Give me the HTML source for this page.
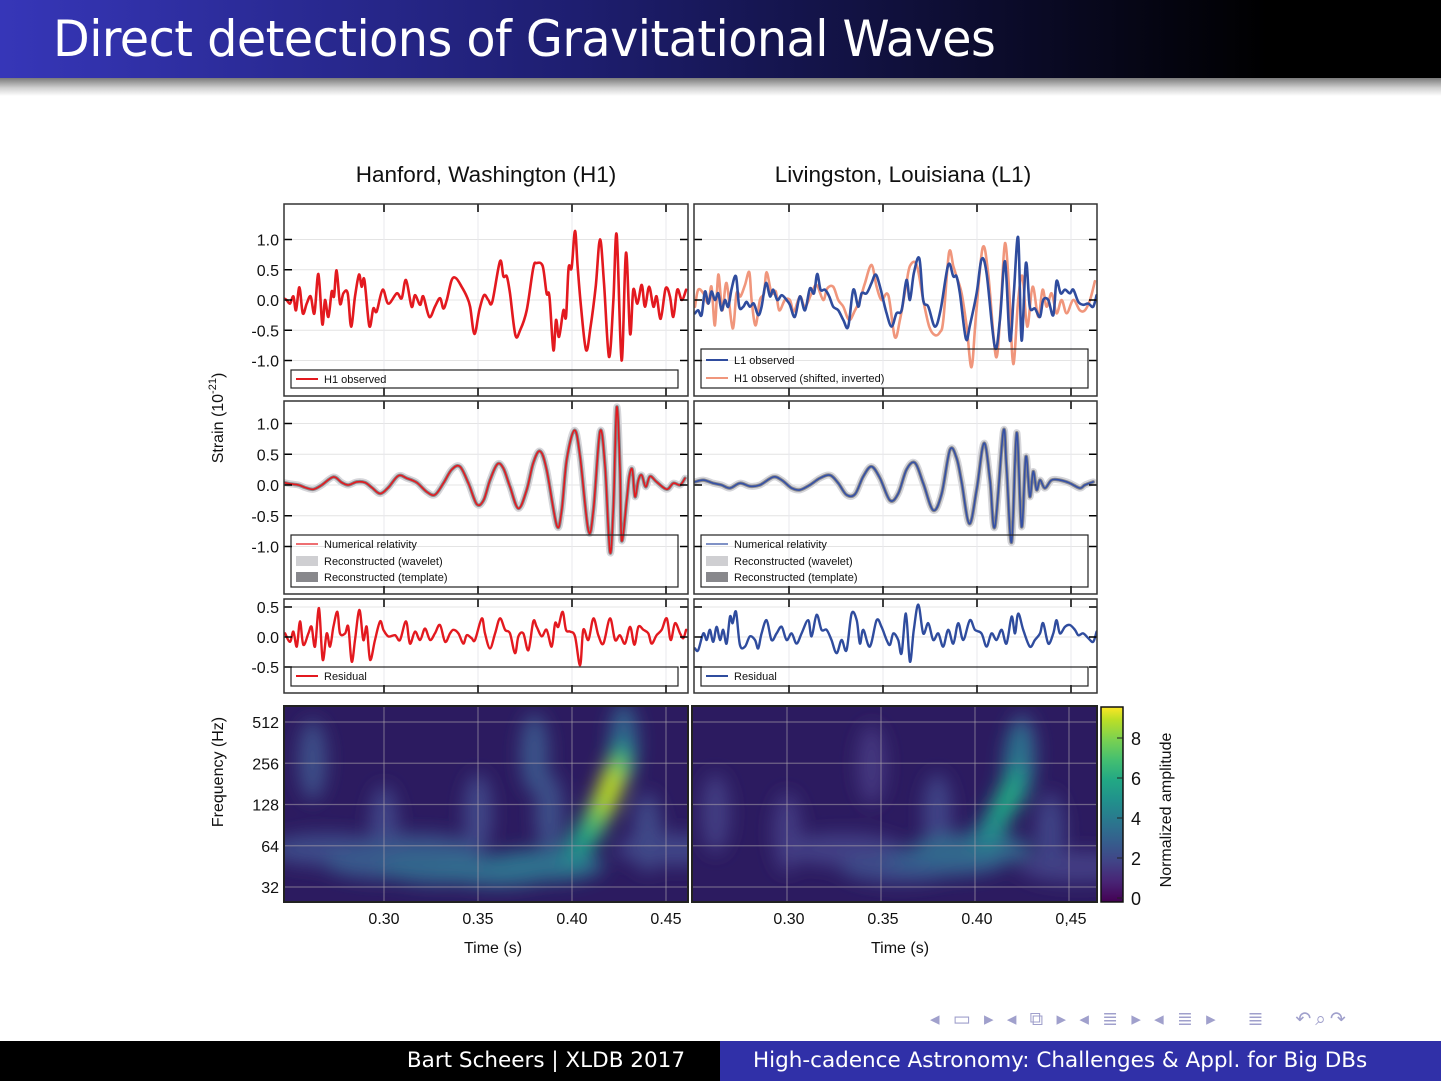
<!DOCTYPE html>
<html><head><meta charset="utf-8">
<style>
body{margin:0;width:1441px;height:1081px;position:relative;background:#fff;overflow:hidden;font-family:"Liberation Sans",sans-serif}
#hdr{position:absolute;left:0;top:0;width:1441px;height:78px;background:linear-gradient(90deg,#3636b8 0%,#1e1e70 40%,#000 88%)}
#hdr span{position:absolute;left:53px;top:10px;color:#fff;font-size:50px;font-family:"DejaVu Sans Condensed","Liberation Sans Narrow","Liberation Sans",sans-serif;font-weight:200;letter-spacing:-0.5px;transform:scaleX(1.06);transform-origin:left top;white-space:nowrap}
#shd{position:absolute;left:0;top:78px;width:1441px;height:18px;background:linear-gradient(180deg,#7a7a7a,#d0d0d0 55%,#fff)}
#fl{position:absolute;left:0;top:1041px;width:720px;height:40px;background:#000;color:#fff;font-size:21.5px;font-family:"DejaVu Sans","Liberation Sans",sans-serif}
#fr{position:absolute;left:720px;top:1041px;width:721px;height:40px;background:#3030a8;color:#fff;font-size:21.5px;font-family:"DejaVu Sans","Liberation Sans",sans-serif}
#nav{position:absolute;left:930px;top:1008px;font-size:19px;color:#a0a0cc;letter-spacing:4px}
svg text{font-family:"Liberation Sans",sans-serif}
</style></head>
<body>
<div id="hdr"><span>Direct detections of Gravitational Waves</span></div>
<div id="shd"></div>
<svg id="fig" width="1441" height="1081" style="position:absolute;left:0;top:0">
<defs>
<filter id="blr" x="-50%" y="-50%" width="200%" height="200%"><feGaussianBlur stdDeviation="9"/></filter>
<clipPath id="cL1"><rect x="284" y="204" width="404" height="192"/></clipPath>
<clipPath id="cR1"><rect x="694" y="204" width="403" height="192"/></clipPath>
<clipPath id="cL2"><rect x="284" y="401" width="404" height="193"/></clipPath>
<clipPath id="cR2"><rect x="694" y="401" width="403" height="193"/></clipPath>
<clipPath id="cL3"><rect x="284" y="599" width="404" height="94"/></clipPath>
<clipPath id="cR3"><rect x="694" y="599" width="403" height="94"/></clipPath>
<clipPath id="cLS"><rect x="284" y="706" width="404" height="196"/></clipPath>
<clipPath id="cRS"><rect x="692" y="706" width="405" height="196"/></clipPath>
<linearGradient id="cbar" x1="0" y1="1" x2="0" y2="0">
<stop offset="0" stop-color="#440154"/><stop offset="0.104" stop-color="#482475"/><stop offset="0.208" stop-color="#414487"/><stop offset="0.312" stop-color="#355f8d"/><stop offset="0.417" stop-color="#2a788e"/><stop offset="0.521" stop-color="#21918c"/><stop offset="0.625" stop-color="#22a884"/><stop offset="0.729" stop-color="#44bf70"/><stop offset="0.833" stop-color="#7ad151"/><stop offset="0.937" stop-color="#bddf26"/><stop offset="1" stop-color="#fde725"/>
</linearGradient>
</defs>
<g id="root"></g>
</svg>
<div id="nav">◂ ▭ ▸ ◂ ⧉ ▸ ◂ ≣ ▸ ◂ ≣ ▸ &nbsp; ≣ &nbsp; ↶⌕↷</div>
<div id="fl"><span style="position:absolute;right:35px;top:7px">Bart Scheers | XLDB 2017</span></div>
<div id="fr"><span style="position:absolute;left:33px;top:7px">High-cadence Astronomy: Challenges &amp; Appl. for Big DBs</span></div>
<script>
// ---------- DATA ----------
const timeTicks=[0.30,0.35,0.40,0.45];
const timeTickLabelsL=["0.30","0.35","0.40","0.45"];
const timeTickLabelsR=["0.30","0.35","0.40","0,45"];
const strainTicks=[1.0,0.5,0.0,-0.5,-1.0];
const strainTickLabels=["1.0","0.5","0.0","-0.5","-1.0"];
const residTicks=[0.5,0.0,-0.5];
const residTickLabels=["0.5","0.0","-0.5"];
const freqTicks=[512,256,128,64,32];
const cbarTicks=[0,2,4,6,8];

const h1ObsT=[0.2465,0.2482,0.2500,0.2518,0.2532,0.2550,0.2568,0.2589,0.2610,0.2630,0.2651,0.2672,0.2686,0.2704,0.2722,0.2734,0.2748,0.2766,0.2784,0.2807,0.2825,0.2846,0.2867,0.2881,0.2896,0.2922,0.2943,0.2961,0.2993,0.3023,0.3068,0.3094,0.3117,0.3147,0.3165,0.3192,0.3209,0.3241,0.3271,0.3298,0.3316,0.3334,0.3360,0.3383,0.3413,0.3440,0.3458,0.3481,0.3507,0.3532,0.3555,0.3576,0.3617,0.3635,0.3653,0.3670,0.3699,0.3724,0.3759,0.3794,0.3812,0.3844,0.3865,0.3880,0.3901,0.3915,0.3931,0.3954,0.3968,0.3982,0.3998,0.4016,0.4030,0.4048,0.4075,0.4099,0.4126,0.4149,0.4170,0.4197,0.4220,0.4238,0.4264,0.4287,0.4309,0.4326,0.4348,0.4371,0.4388,0.4410,0.4433,0.4450,0.4472,0.4498,0.4521,0.4539,0.4560,0.4584,0.4607];
const h1ObsV=[0.03,0,-0.06,0.06,-0.17,0.21,-0.22,-0.06,0.06,-0.22,0.43,-0.40,0,-0.28,0.14,0.06,0.49,-0.06,0.11,0.11,-0.44,0.06,0.42,0.22,0.33,-0.43,-0.14,-0.19,0.17,-0.06,0.11,0.03,0.33,-0.11,0.08,-0.08,0.06,-0.28,-0.11,0.03,-0.14,0,0.33,0.36,0.22,0.06,-0.11,-0.56,-0.17,0.08,0,-0.03,0.64,0.39,0.39,0.11,-0.58,-0.50,-0.17,0.53,0.61,0.56,0.11,0.06,-0.83,-0.33,-0.61,-0.17,-0.28,0.53,0.53,1.14,0.56,-0.11,-0.83,-0.44,0.22,1.00,0.28,-0.94,0,1.08,-1.00,0.78,-0.56,0.17,-0.06,0.25,-0.11,0.22,-0.11,0.06,-0.31,0.19,0.06,-0.28,0.17,0,0.17];

const l1ObsT=[0.2500,0.2517,0.2535,0.2553,0.2571,0.2588,0.2606,0.2624,0.2641,0.2659,0.2677,0.2695,0.2718,0.2735,0.2757,0.2774,0.2792,0.2813,0.2836,0.2854,0.2877,0.2899,0.2916,0.2938,0.2961,0.2987,0.3005,0.3031,0.3058,0.3085,0.3111,0.3133,0.3150,0.3168,0.3191,0.3214,0.3235,0.3262,0.3289,0.3315,0.3342,0.3368,0.3386,0.3413,0.3439,0.3461,0.3484,0.3519,0.3546,0.3572,0.3599,0.3625,0.3643,0.3664,0.3693,0.3714,0.3741,0.3776,0.3806,0.3847,0.3874,0.3891,0.3909,0.3941,0.3962,0.3998,0.4024,0.4051,0.4095,0.4122,0.4149,0.4175,0.4196,0.4219,0.4237,0.4260,0.4281,0.4308,0.4335,0.4352,0.4379,0.4406,0.4423,0.4445,0.4468,0.4494,0.4512,0.4539,0.4565,0.4592,0.4618,0.4636];
const l1ObsV=[-0.22,-0.17,-0.25,0.14,-0.06,0.14,0,0.11,-0.17,0,-0.11,0.19,0.39,-0.11,-0.11,-0.03,-0.11,-0.06,-0.25,-0.11,0.28,0.06,0.17,0,0.08,0,-0.08,-0.28,0.06,-0.17,0.19,0.11,0.43,0.17,0.17,0.06,-0.11,-0.17,-0.33,-0.44,0.17,-0.11,0.11,0.11,0.28,0.42,0.22,-0.22,-0.44,-0.22,-0.17,0.33,0,0.44,0.69,0,-0.11,-0.44,-0.17,0.58,0.39,0.39,0.11,-0.64,-0.42,0.11,0.67,0.44,-0.78,-0.33,0.64,-0.67,0.11,1.03,-0.67,0.61,-0.11,-0.14,-0.28,0,0,-0.25,0.31,0.11,0.17,0.11,0.17,-0.03,-0.08,-0.06,-0.11,0.08];

const h1ShiftT=[0.2500,0.2517,0.2544,0.2571,0.2588,0.2606,0.2624,0.2645,0.2668,0.2700,0.2721,0.2742,0.2766,0.2789,0.2801,0.2822,0.2845,0.2867,0.2881,0.2907,0.2930,0.2948,0.2978,0.3005,0.3026,0.3058,0.3085,0.3120,0.3147,0.3182,0.3203,0.3235,0.3262,0.3289,0.3320,0.3351,0.3377,0.3404,0.3439,0.3466,0.3492,0.3528,0.3563,0.3590,0.3622,0.3643,0.3679,0.3714,0.3746,0.3776,0.3803,0.3821,0.3851,0.3874,0.3891,0.3918,0.3945,0.3971,0.3994,0.4030,0.4060,0.4101,0.4127,0.4149,0.4172,0.4193,0.4219,0.4242,0.4267,0.4296,0.4326,0.4349,0.4370,0.4397,0.4423,0.4450,0.4477,0.4512,0.4547,0.4574,0.4601,0.4627];
const h1ShiftV=[-0.11,0.17,0.11,-0.06,0.22,-0.42,0.42,-0.17,0.28,-0.47,0.11,0.06,0.25,0.46,0,-0.42,0,0.11,0.46,0.11,0.14,-0.17,0,0,-0.19,0.06,-0.11,0.11,0.25,0,0.19,0.22,0,-0.11,-0.33,-0.17,0,0.28,0.58,0.22,0,0.08,-0.61,-0.33,0.22,0.56,0.58,0,-0.44,-0.58,-0.53,-0.33,0.78,0.56,0.39,0.11,-0.44,-1.11,-0.28,0.86,0.42,-0.94,-0.06,0.94,0.11,-1.06,0,0.39,-0.44,0.22,-0.28,0.17,-0.11,0.11,-0.22,0,-0.22,0,-0.17,-0.17,0,0.31];

const nrH1T=[0.2465,0.2500,0.2545,0.2580,0.2624,0.2669,0.2731,0.2775,0.2810,0.2855,0.2899,0.2935,0.2979,0.3023,0.3076,0.3121,0.3174,0.3227,0.3271,0.3316,0.3360,0.3404,0.3449,0.3493,0.3529,0.3564,0.3603,0.3635,0.3670,0.3715,0.3759,0.3794,0.3830,0.3865,0.3919,0.3945,0.3972,0.4013,0.4043,0.4087,0.4114,0.4149,0.4176,0.4202,0.4220,0.4238,0.4255,0.4264,0.4291,0.4305,0.4321,0.4335,0.4353,0.4371,0.4392,0.4415,0.4450,0.4504,0.4539,0.4575,0.4601];
const nrH1V=[0.04,0.02,0,-0.04,-0.07,0,0.13,0.04,0,0.05,0.04,-0.04,-0.14,-0.04,0.15,0.11,0.04,-0.11,-0.16,0.03,0.25,0.30,0.03,-0.31,-0.25,0.08,0.34,0.27,-0.03,-0.38,-0.08,0.36,0.55,0.25,-0.66,-0.41,0.41,0.89,0.46,-0.74,-0.41,0.87,0.30,-1.09,-0.36,1.26,0.30,-0.90,-0.25,0.14,0.25,-0.19,0.08,0.16,-0.03,0.14,0.05,-0.07,0.03,0,0.11];

const nrL1T=[0.2500,0.2544,0.2597,0.2641,0.2686,0.2739,0.2792,0.2845,0.2916,0.2961,0.3014,0.3058,0.3111,0.3164,0.3218,0.3262,0.3306,0.3351,0.3395,0.3439,0.3484,0.3537,0.3581,0.3625,0.3670,0.3714,0.3767,0.3812,0.3856,0.3891,0.3918,0.3959,0.3998,0.4037,0.4069,0.4095,0.4140,0.4157,0.4184,0.4211,0.4237,0.4260,0.4281,0.4299,0.4317,0.4335,0.4361,0.4397,0.4441,0.4494,0.4547,0.4574,0.4618];
const nrL1V=[0.05,0.08,0.03,0,-0.05,0.03,-0.02,0,0.13,0.08,-0.05,-0.08,0,0.11,0.16,0.03,-0.16,-0.15,0.14,0.30,0.11,-0.25,-0.14,0.25,0.36,0.03,-0.41,-0.14,0.57,0.44,0.05,-0.63,-0.08,0.68,0.08,-0.68,0.87,0.30,-0.93,0.85,-0.68,0.46,-0.19,0.22,-0.08,0.08,-0.05,0.08,0.08,0.03,-0.05,0,0.05];

const resH1T=[0.2474,0.2500,0.2518,0.2536,0.2553,0.2571,0.2598,0.2615,0.2633,0.2654,0.2674,0.2695,0.2713,0.2731,0.2752,0.2766,0.2793,0.2810,0.2828,0.2846,0.2869,0.2890,0.2908,0.2926,0.2952,0.2979,0.2997,0.3023,0.3059,0.3085,0.3117,0.3138,0.3165,0.3192,0.3218,0.3245,0.3271,0.3298,0.3325,0.3351,0.3369,0.3396,0.3422,0.3440,0.3466,0.3484,0.3520,0.3537,0.3564,0.3591,0.3617,0.3644,0.3670,0.3697,0.3715,0.3741,0.3768,0.3794,0.3812,0.3839,0.3865,0.3892,0.3910,0.3927,0.3950,0.3968,0.3990,0.4016,0.4043,0.4060,0.4087,0.4114,0.4140,0.4167,0.4202,0.4229,0.4255,0.4282,0.4309,0.4332,0.4353,0.4380,0.4406,0.4424,0.4450,0.4477,0.4504,0.4525,0.4548,0.4575,0.4592,0.4607];
const resH1V=[0.06,-0.08,0.09,-0.16,0.26,-0.13,0.06,0.17,-0.16,0.48,-0.38,0.06,-0.16,0.17,0.42,0.06,0.06,0.17,-0.41,-0.05,0.45,-0.05,0.17,-0.38,-0.05,0.26,0.12,0.01,0.03,-0.05,0.26,-0.11,0.09,-0.05,0.14,-0.05,0.06,0.20,-0.08,0.06,0.12,0.06,-0.11,0.03,-0.02,-0.05,0.31,0.06,-0.19,0.06,0.31,0.12,0.06,-0.27,0.01,0.06,-0.22,0.26,0.17,0.01,0.12,-0.16,0.23,0.17,0.42,0.12,0.09,0.01,-0.47,0.12,-0.05,0.31,0.03,-0.11,0.31,-0.05,0.03,-0.11,0.17,-0.13,0.17,0.12,0.06,-0.11,0.03,0.12,0.31,-0.05,0.23,0.06,-0.02,0.12];

const resL1T=[0.2500,0.2517,0.2544,0.2562,0.2579,0.2597,0.2615,0.2633,0.2650,0.2668,0.2686,0.2700,0.2718,0.2739,0.2766,0.2792,0.2819,0.2836,0.2854,0.2881,0.2907,0.2934,0.2961,0.2987,0.3014,0.3040,0.3067,0.3102,0.3120,0.3147,0.3173,0.3200,0.3226,0.3253,0.3280,0.3306,0.3333,0.3360,0.3377,0.3395,0.3430,0.3466,0.3492,0.3519,0.3537,0.3555,0.3581,0.3599,0.3622,0.3643,0.3664,0.3688,0.3714,0.3741,0.3767,0.3794,0.3820,0.3847,0.3874,0.3900,0.3927,0.3962,0.3989,0.4024,0.4051,0.4077,0.4104,0.4131,0.4157,0.4184,0.4202,0.4219,0.4246,0.4281,0.4308,0.4335,0.4352,0.4379,0.4406,0.4423,0.4441,0.4468,0.4494,0.4521,0.4539,0.4565,0.4592,0.4618,0.4636];
const resL1V=[-0.19,-0.22,0.06,-0.05,0.12,-0.08,0.17,-0.05,0.12,-0.11,0.34,0.23,0.42,-0.13,-0.16,0.01,-0.05,-0.19,0.06,0.28,-0.05,0.06,0.17,-0.05,0.06,-0.11,0.06,0.28,0.01,0.37,0.12,0.12,-0.05,-0.27,-0.05,-0.22,0.39,0.28,-0.11,0.12,-0.16,0.28,0.17,-0.05,-0.13,0.06,-0.05,-0.27,0.39,-0.41,0.12,0.54,0.06,0.23,-0.05,0.06,-0.16,0.12,-0.11,0.23,-0.05,0.28,0.12,0.06,-0.16,0.06,-0.05,0.12,-0.11,0.34,0.06,0.39,0.12,-0.16,-0.05,0.06,0.23,-0.11,0.06,0.28,0.06,0.17,0.20,0.12,0.03,0.06,-0.02,-0.08,0.09];

// spectrogram blobs: time (s), frequency (Hz), amplitude
const specH1T=[0.262,0.270,0.300,0.318,0.350,0.380,0.388,0.440,0.455,0.300,0.330,0.360,0.385,0.400,0.405,0.410,0.414,0.418,0.421,0.424,0.426,0.4275];
const specH1F=[270,60,90,60,110,300,110,80,60,48,44,42,46,55,68,85,110,140,180,230,290,360];
const specH1A=[2.4,2.3,2.0,2.5,2.1,2.6,2.4,2.2,2.0,2.8,3.3,3.5,3.7,4.4,5.2,6.3,7.6,8.8,9.0,7.6,5.0,3.2];
const specL1T=[0.262,0.300,0.330,0.345,0.380,0.440,0.455,0.360,0.385,0.398,0.405,0.410,0.414,0.418,0.421,0.423,0.425];
const specL1F=[110,80,60,250,110,80,45,45,50,60,72,90,115,145,190,250,300];
const specL1A=[1.8,1.7,1.9,1.6,2.0,2.0,1.8,2.3,2.9,3.4,4.2,5.0,5.6,6.0,5.2,3.8,2.6];

// ---------- HELPERS ----------
const NS="http://www.w3.org/2000/svg";
const root=document.getElementById('root');
function mk(tag,attrs,parent){const e=document.createElementNS(NS,tag);for(const k in attrs)e.setAttribute(k,attrs[k]);(parent||root).appendChild(e);return e;}
const PX_PER_S=1880;
const colL={x0:284,x1:688,ref:384}, colR={x0:694,x1:1097,ref:789};
function xOf(t,col){return col.ref+(t-0.30)*PX_PER_S;}
const rows={r1:{y0:204,y1:396,zero:300,k:60.5},r2:{y0:401,y1:594,zero:485,k:61.5},r3:{y0:599,y1:693,zero:637,k:60}};
function yOf(v,row){return row.zero-v*row.k;}
function fy(f){return 887-41.25*Math.log2(f/32);}
const vir=["#440154","#482475","#414487","#355f8d","#2a788e","#21918c","#22a884","#44bf70","#7ad151","#bddf26","#fde725"];
function hex(c){return [parseInt(c.slice(1,3),16),parseInt(c.slice(3,5),16),parseInt(c.slice(5,7),16)];}
function viridis(a){a=Math.max(0,Math.min(9.99,a));const i=Math.floor(a),f=a-i;const c0=hex(vir[i]),c1=hex(vir[i+1]);return "rgb("+c0.map((v,j)=>Math.round(v+(c1[j]-v)*f)).join(",")+")";}

function panelFrame(col,row,name){
  const g=mk('g',{});
  
  
  mk('rect',{x:col.x0,y:row.y0,width:col.x1-col.x0,height:row.y1-row.y0,fill:'#fff'},g);
  return g;
}
function grid(col,row,ticks,g){
  ticks.forEach(v=>{const y=yOf(v,row);mk('line',{x1:col.x0,x2:col.x1,y1:y,y2:y,stroke:'#e4e4e4','stroke-width':1},g);});
  timeTicks.forEach(t=>{const x=xOf(t,col);mk('line',{x1:x,x2:x,y1:row.y0,y2:row.y1,stroke:'#e8e8ee','stroke-width':1},g);});
}
function ticksAndBorder(col,row,ticks,g){
  ticks.forEach(v=>{const y=yOf(v,row);
    mk('line',{x1:col.x0,x2:col.x0+8,y1:y,y2:y,stroke:'#000','stroke-width':1.5},g);
    mk('line',{x1:col.x1-8,x2:col.x1,y1:y,y2:y,stroke:'#000','stroke-width':1.5},g);});
  timeTicks.forEach(t=>{const x=xOf(t,col);
    mk('line',{x1:x,x2:x,y1:row.y0,y2:row.y0+8,stroke:'#000','stroke-width':1.5},g);
    mk('line',{x1:x,x2:x,y1:row.y1-8,y2:row.y1,stroke:'#000','stroke-width':1.5},g);});
  mk('rect',{x:col.x0,y:row.y0,width:col.x1-col.x0,height:row.y1-row.y0,fill:'none',stroke:'#333','stroke-width':1.5},g);
}
function smoothPath(P){
  let d="M"+P[0][0].toFixed(1)+","+P[0][1].toFixed(1);
  for(let i=0;i<P.length-1;i++){
    const p0=P[Math.max(0,i-1)],p1=P[i],p2=P[i+1],p3=P[Math.min(P.length-1,i+2)];
    const c1x=p1[0]+(p2[0]-p0[0])/6,c1y=p1[1]+(p2[1]-p0[1])/6;
    const c2x=p2[0]-(p3[0]-p1[0])/6,c2y=p2[1]-(p3[1]-p1[1])/6;
    d+=" C"+c1x.toFixed(1)+","+c1y.toFixed(1)+" "+c2x.toFixed(1)+","+c2y.toFixed(1)+" "+p2[0].toFixed(1)+","+p2[1].toFixed(1);
  }
  return d;
}
function series(T,V,col,row,color,w,clip,name){
  const P=T.map((t,i)=>[xOf(t,col),yOf(V[i],row)]);
  const p=mk('path',{d:smoothPath(P),fill:'none',stroke:color,'stroke-width':w,'stroke-linejoin':'round','stroke-linecap':'round','clip-path':'url(#'+clip+')'});
  
  
  return p;
}
function yLabels(row,ticks,labels){
  ticks.forEach((v,i)=>{const t=mk('text',{x:279,y:yOf(v,row)+6,'text-anchor':'end','font-size':16,fill:'#111'});t.textContent=labels[i];
    
    });
}
function legendBox(x,y,w,h,name){
  const r=mk('rect',{x:x,y:y,width:w,height:h,fill:'none',stroke:'#222','stroke-width':1.2});
  
  
}
function legendLine(x,y,color,w,label){
  mk('line',{x1:x,x2:x+22,y1:y,y2:y,stroke:color,'stroke-width':w});
  const t=mk('text',{x:x+28,y:y+4,'font-size':11,fill:'#111'});t.textContent=label;
  
  
}
function legendSwatch(x,y,color,label){
  mk('rect',{x:x,y:y-5,width:22,height:10,fill:color});
  const t=mk('text',{x:x+28,y:y+4,'font-size':11,fill:'#111'});t.textContent=label;
  
  
}

// ---------- TITLES ----------
let tt=mk('text',{x:486,y:182,'text-anchor':'middle','font-size':22.5,fill:'#111'});tt.textContent="Hanford, Washington (H1)";


tt=mk('text',{x:903,y:182,'text-anchor':'middle','font-size':22.5,fill:'#111'});tt.textContent="Livingston, Louisiana (L1)";


tt=mk('text',{x:0,y:0,'font-size':16,fill:'#111','text-anchor':'middle',transform:'translate(223,418) rotate(-90)'});
tt.innerHTML='Strain (10<tspan dy="-7" font-size="11">-21</tspan><tspan dy="7">)</tspan>';


tt=mk('text',{x:0,y:0,'font-size':16,fill:'#111','text-anchor':'middle',transform:'translate(223,772) rotate(-90)'});tt.textContent="Frequency (Hz)";



// ---------- ROW 1 ----------
[colL,colR].forEach((c,i)=>{const g=panelFrame(c,rows.r1,i?'l1-observed-panel':'h1-observed-panel');grid(c,rows.r1,strainTicks,g);});
series(h1ObsT,h1ObsV,colL,rows.r1,'#e3191f',2.6,'cL1','h1-observed-line');
series(h1ShiftT,h1ShiftV,colR,rows.r1,'#f0967c',2.6,'cR1','h1-shifted-inverted-line');
series(l1ObsT,l1ObsV,colR,rows.r1,'#2f4c9e',2.6,'cR1','l1-observed-line');
[colL,colR].forEach(c=>ticksAndBorder(c,rows.r1,strainTicks,root));
yLabels(rows.r1,strainTicks,strainTickLabels);
legendBox(291,370,387,18,'h1-observed-legend');legendLine(296,379,'#e3191f',2,'H1 observed');
legendBox(701,349,387,39,'l1-observed-legend');legendLine(706,360,'#2f4c9e',2,'L1 observed');legendLine(706,378,'#f0967c',2,'H1 observed (shifted, inverted)');

// ---------- ROW 2 ----------
[colL,colR].forEach((c,i)=>{const g=panelFrame(c,rows.r2,i?'l1-reconstruction-panel':'h1-reconstruction-panel');grid(c,rows.r2,strainTicks,g);});
series(nrH1T,nrH1V,colL,rows.r2,'#d6d6da',7,'cL2','h1-wavelet-band');
series(nrH1T,nrH1V,colL,rows.r2,'#8a8a8e',3.5,'cL2','h1-template-band');
series(nrH1T,nrH1V,colL,rows.r2,'#e3191f',1.6,'cL2','h1-numerical-relativity-line');
series(nrL1T,nrL1V,colR,rows.r2,'#d6d6da',7,'cR2','l1-wavelet-band');
series(nrL1T,nrL1V,colR,rows.r2,'#8a8a8e',3.5,'cR2','l1-template-band');
series(nrL1T,nrL1V,colR,rows.r2,'#3550a5',1.6,'cR2','l1-numerical-relativity-line');
[colL,colR].forEach(c=>ticksAndBorder(c,rows.r2,strainTicks,root));
yLabels(rows.r2,strainTicks,strainTickLabels);
[[291,'#e3191f','h1'],[701,'#3550a5','l1']].forEach(([x,col,n])=>{
  legendBox(x,535,387,52,n+'-reconstruction-legend');
  legendLine(x+5,544,col,1.2,'Numerical relativity');
  legendSwatch(x+5,561,'#cfcfd2','Reconstructed (wavelet)');
  legendSwatch(x+5,577,'#88888c','Reconstructed (template)');
});

// ---------- ROW 3 ----------
[colL,colR].forEach((c,i)=>{const g=panelFrame(c,rows.r3,i?'l1-residual-panel':'h1-residual-panel');grid(c,rows.r3,residTicks,g);});
series(resH1T,resH1V,colL,rows.r3,'#e3191f',2.4,'cL3','h1-residual-line');
series(resL1T,resL1V,colR,rows.r3,'#2f4c9e',2.4,'cR3','l1-residual-line');
[colL,colR].forEach(c=>ticksAndBorder(c,rows.r3,residTicks,root));
yLabels(rows.r3,residTicks,residTickLabels);
legendBox(291,667,387,19,'h1-residual-legend');legendLine(296,676,'#e3191f',2,'Residual');
legendBox(701,667,387,19,'l1-residual-legend');legendLine(706,676,'#2f4c9e',2,'Residual');

// ---------- SPECTROGRAMS ----------
function spectrogram(col,x0,x1,T,F,A,clip,name){
  const g=mk('g',{'clip-path':'url(#'+clip+')'});
  
  
  mk('rect',{x:x0,y:706,width:x1-x0,height:196,fill:'#2c1b60'},g);
  const bg=mk('g',{filter:'url(#blr)'},g);
  const idx=A.map((a,i)=>i).sort((a,b)=>A[a]-A[b]);
  idx.forEach(i=>{
    const big=A[i]<4;
    const e=mk('ellipse',{cx:xOf(T[i],col),cy:fy(F[i]),rx:big?(F[i]<70?60:14):12,ry:big?(F[i]<70?16:40):16,fill:viridis(A[i])},bg);
    
    
  });
  freqTicks.forEach(f=>mk('line',{x1:x0,x2:x1,y1:fy(f),y2:fy(f),stroke:'rgba(170,160,170,0.55)','stroke-width':1.2},g));
  timeTicks.forEach(t=>mk('line',{x1:xOf(t,col),x2:xOf(t,col),y1:706,y2:902,stroke:'rgba(170,160,170,0.55)','stroke-width':1.2},g));
  mk('rect',{x:x0,y:706,width:x1-x0,height:196,fill:'none',stroke:'#222','stroke-width':2});
}
spectrogram(colL,284,688,specH1T,specH1F,specH1A,'cLS','h1-spectrogram');
spectrogram({ref:787},692,1097,specL1T,specL1F,specL1A,'cRS','l1-spectrogram');
freqTicks.forEach(f=>{const t=mk('text',{x:279,y:fy(f)+6,'text-anchor':'end','font-size':16,fill:'#111'});t.textContent=String(f);
  
  });
timeTicks.forEach((tk,i)=>{
  let t=mk('text',{x:xOf(tk,colL),y:924,'text-anchor':'middle','font-size':16,fill:'#111'});t.textContent=timeTickLabelsL[i];
  
  
  t=mk('text',{x:xOf(tk,colR),y:924,'text-anchor':'middle','font-size':16,fill:'#111'});t.textContent=timeTickLabelsR[i];
  
  
});
tt=mk('text',{x:493,y:953,'text-anchor':'middle','font-size':16,fill:'#111'});tt.textContent="Time (s)";


tt=mk('text',{x:900,y:953,'text-anchor':'middle','font-size':16,fill:'#111'});tt.textContent="Time (s)";



// ---------- COLORBAR ----------
const cb=mk('rect',{x:1101,y:707,width:22,height:195,fill:'url(#cbar)',stroke:'#111','stroke-width':1.5});


cbarTicks.forEach(v=>{const y=898-v*20;
  mk('line',{x1:1117,x2:1123,y1:y,y2:y,stroke:'#222','stroke-width':1});
  const t=mk('text',{x:1131,y:y+7,'font-size':18,fill:'#111'});t.textContent=String(v);
  
  });
tt=mk('text',{x:0,y:0,'font-size':16,fill:'#111','text-anchor':'middle',transform:'translate(1171,810) rotate(-90)'});tt.textContent="Normalized amplitude";


</script>
</body></html>
